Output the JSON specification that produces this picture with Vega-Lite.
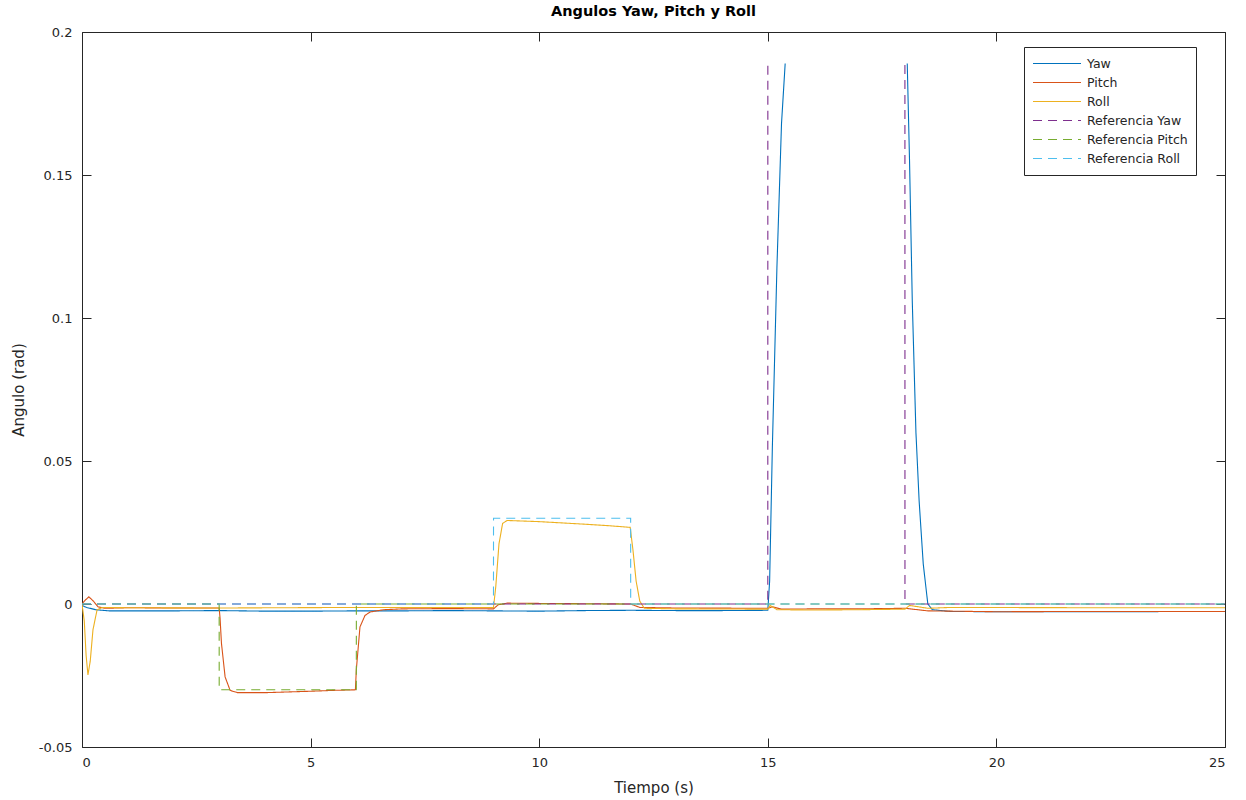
{
  "$schema": "https://vega.github.io/schema/vega-lite/v6.json",
  "width": 1143,
  "height": 715,
  "autosize": {"type": "none"},
  "padding": {"left": 82, "top": 32, "right": 21, "bottom": 53},
  "background": "white",
  "title": {"text": "Angulos Yaw, Pitch y Roll", "font": "DejaVu Sans", "fontSize": 14.5, "fontWeight": "bold", "color": "#000000", "offset": 7},
  "data": {"values": [
    {"s": "Yaw", "t": 0, "v": -0.0005},
    {"s": "Yaw", "t": 0.1, "v": -0.0012},
    {"s": "Yaw", "t": 0.3, "v": -0.002},
    {"s": "Yaw", "t": 0.6, "v": -0.0024},
    {"s": "Yaw", "t": 2, "v": -0.0024},
    {"s": "Yaw", "t": 3, "v": -0.0023},
    {"s": "Yaw", "t": 4, "v": -0.0025},
    {"s": "Yaw", "t": 5, "v": -0.0025},
    {"s": "Yaw", "t": 6, "v": -0.0024},
    {"s": "Yaw", "t": 7, "v": -0.0024},
    {"s": "Yaw", "t": 8, "v": -0.0023},
    {"s": "Yaw", "t": 9, "v": -0.0024},
    {"s": "Yaw", "t": 10, "v": -0.0025},
    {"s": "Yaw", "t": 11, "v": -0.0023},
    {"s": "Yaw", "t": 12, "v": -0.0022},
    {"s": "Yaw", "t": 13, "v": -0.0023},
    {"s": "Yaw", "t": 14, "v": -0.0023},
    {"s": "Yaw", "t": 15, "v": -0.0022},
    {"s": "Yaw", "t": 15.04, "v": 0.008},
    {"s": "Yaw", "t": 15.1, "v": 0.055},
    {"s": "Yaw", "t": 15.2, "v": 0.118},
    {"s": "Yaw", "t": 15.3, "v": 0.168},
    {"s": "Yaw", "t": 15.38, "v": 0.189},
    {"s": "Yaw", "t": 16.7, "v": null},
    {"s": "Yaw", "t": 18.05, "v": 0.189},
    {"s": "Yaw", "t": 18.1, "v": 0.155},
    {"s": "Yaw", "t": 18.16, "v": 0.106},
    {"s": "Yaw", "t": 18.24, "v": 0.06},
    {"s": "Yaw", "t": 18.31, "v": 0.036},
    {"s": "Yaw", "t": 18.4, "v": 0.014},
    {"s": "Yaw", "t": 18.5, "v": 0.0},
    {"s": "Yaw", "t": 18.6, "v": -0.002},
    {"s": "Yaw", "t": 19, "v": -0.0026},
    {"s": "Yaw", "t": 20, "v": -0.0027},
    {"s": "Yaw", "t": 22, "v": -0.0027},
    {"s": "Yaw", "t": 25, "v": -0.0026},

    {"s": "Pitch", "t": 0, "v": 0.0},
    {"s": "Pitch", "t": 0.08, "v": 0.0015},
    {"s": "Pitch", "t": 0.15, "v": 0.0025},
    {"s": "Pitch", "t": 0.25, "v": 0.001},
    {"s": "Pitch", "t": 0.35, "v": -0.001},
    {"s": "Pitch", "t": 0.5, "v": -0.0015},
    {"s": "Pitch", "t": 1, "v": -0.0013},
    {"s": "Pitch", "t": 2, "v": -0.0014},
    {"s": "Pitch", "t": 3, "v": -0.0014},
    {"s": "Pitch", "t": 3.02, "v": -0.005},
    {"s": "Pitch", "t": 3.05, "v": -0.0137},
    {"s": "Pitch", "t": 3.13, "v": -0.0255},
    {"s": "Pitch", "t": 3.24, "v": -0.0302},
    {"s": "Pitch", "t": 3.4, "v": -0.031},
    {"s": "Pitch", "t": 4, "v": -0.031},
    {"s": "Pitch", "t": 5, "v": -0.0305},
    {"s": "Pitch", "t": 5.5, "v": -0.0302},
    {"s": "Pitch", "t": 5.98, "v": -0.030},
    {"s": "Pitch", "t": 6.0, "v": -0.023},
    {"s": "Pitch", "t": 6.08, "v": -0.008},
    {"s": "Pitch", "t": 6.19, "v": -0.004},
    {"s": "Pitch", "t": 6.3, "v": -0.0028},
    {"s": "Pitch", "t": 6.6, "v": -0.002},
    {"s": "Pitch", "t": 7, "v": -0.0017},
    {"s": "Pitch", "t": 8, "v": -0.0016},
    {"s": "Pitch", "t": 9, "v": -0.0017},
    {"s": "Pitch", "t": 9.1, "v": -0.0003},
    {"s": "Pitch", "t": 9.3, "v": 0.0003},
    {"s": "Pitch", "t": 10, "v": 0.0002},
    {"s": "Pitch", "t": 11, "v": 0.0001},
    {"s": "Pitch", "t": 12, "v": 0.0},
    {"s": "Pitch", "t": 12.2, "v": -0.0012},
    {"s": "Pitch", "t": 13, "v": -0.0014},
    {"s": "Pitch", "t": 15, "v": -0.0015},
    {"s": "Pitch", "t": 15.1, "v": -0.001},
    {"s": "Pitch", "t": 15.3, "v": -0.0018},
    {"s": "Pitch", "t": 16, "v": -0.0017},
    {"s": "Pitch", "t": 17, "v": -0.0017},
    {"s": "Pitch", "t": 18, "v": -0.0015},
    {"s": "Pitch", "t": 18.5, "v": -0.0024},
    {"s": "Pitch", "t": 20, "v": -0.0027},
    {"s": "Pitch", "t": 22, "v": -0.0026},
    {"s": "Pitch", "t": 25, "v": -0.0026},

    {"s": "Roll", "t": 0, "v": 0.0},
    {"s": "Roll", "t": 0.05, "v": -0.006},
    {"s": "Roll", "t": 0.09, "v": -0.018},
    {"s": "Roll", "t": 0.13, "v": -0.0248},
    {"s": "Roll", "t": 0.18, "v": -0.02},
    {"s": "Roll", "t": 0.24, "v": -0.009},
    {"s": "Roll", "t": 0.33, "v": -0.002},
    {"s": "Roll", "t": 0.45, "v": -0.0012},
    {"s": "Roll", "t": 1, "v": -0.0013},
    {"s": "Roll", "t": 3, "v": -0.0014},
    {"s": "Roll", "t": 6, "v": -0.0012},
    {"s": "Roll", "t": 9, "v": -0.0012},
    {"s": "Roll", "t": 9.05, "v": 0.006},
    {"s": "Roll", "t": 9.12, "v": 0.021},
    {"s": "Roll", "t": 9.2, "v": 0.0282},
    {"s": "Roll", "t": 9.3, "v": 0.0292},
    {"s": "Roll", "t": 10, "v": 0.0288},
    {"s": "Roll", "t": 11, "v": 0.0279},
    {"s": "Roll", "t": 11.5, "v": 0.0274},
    {"s": "Roll", "t": 11.99, "v": 0.0268},
    {"s": "Roll", "t": 12.05, "v": 0.019},
    {"s": "Roll", "t": 12.12, "v": 0.008},
    {"s": "Roll", "t": 12.2, "v": 0.001},
    {"s": "Roll", "t": 12.3, "v": -0.0015},
    {"s": "Roll", "t": 13, "v": -0.0017},
    {"s": "Roll", "t": 15, "v": -0.0018},
    {"s": "Roll", "t": 15.05, "v": -0.0005},
    {"s": "Roll", "t": 15.2, "v": -0.002},
    {"s": "Roll", "t": 16, "v": -0.0021},
    {"s": "Roll", "t": 17, "v": -0.002},
    {"s": "Roll", "t": 18, "v": -0.0018},
    {"s": "Roll", "t": 18.1, "v": -0.0005},
    {"s": "Roll", "t": 18.5, "v": -0.0015},
    {"s": "Roll", "t": 19, "v": -0.0012},
    {"s": "Roll", "t": 22, "v": -0.0013},
    {"s": "Roll", "t": 25, "v": -0.0013},

    {"s": "Referencia Yaw", "t": 0, "v": 0},
    {"s": "Referencia Yaw", "t": 15, "v": 0},
    {"s": "Referencia Yaw", "t": 15.001, "v": 0.1885},
    {"s": "Referencia Yaw", "t": 16.5, "v": null},
    {"s": "Referencia Yaw", "t": 17.999, "v": 0.1885},
    {"s": "Referencia Yaw", "t": 18, "v": 0},
    {"s": "Referencia Yaw", "t": 25, "v": 0},

    {"s": "Referencia Pitch", "t": 0, "v": 0},
    {"s": "Referencia Pitch", "t": 3, "v": 0},
    {"s": "Referencia Pitch", "t": 3.001, "v": -0.03},
    {"s": "Referencia Pitch", "t": 6, "v": -0.03},
    {"s": "Referencia Pitch", "t": 6.001, "v": 0},
    {"s": "Referencia Pitch", "t": 25, "v": 0},

    {"s": "Referencia Roll", "t": 0, "v": 0},
    {"s": "Referencia Roll", "t": 9, "v": 0},
    {"s": "Referencia Roll", "t": 9.001, "v": 0.03},
    {"s": "Referencia Roll", "t": 12, "v": 0.03},
    {"s": "Referencia Roll", "t": 12.001, "v": 0},
    {"s": "Referencia Roll", "t": 25, "v": 0}
  ]},
  "layer": [
    {
      "mark": {"type": "line", "strokeWidth": 1.1, "clip": true, "invalid": "break-paths-filter-domains"},
      "encoding": {
        "x": {"field": "t", "type": "quantitative", "scale": {"domain": [0, 25], "nice": false, "zero": false},
          "axis": {"orient": "bottom", "values": [0, 5, 10, 15, 20, 25], "title": "Tiempo (s)", "labelPadding": 18, "titlePadding": 11}},
        "y": {"field": "v", "type": "quantitative", "scale": {"domain": [-0.05, 0.2], "nice": false, "zero": false},
          "axis": {"orient": "left", "values": [-0.05, 0, 0.05, 0.1, 0.15, 0.2], "title": "Angulo (rad)", "labelPadding": 19, "titlePadding": 12,
            "labelExpr": "datum.value < 0 ? '-' + format(-datum.value, '~g') : format(datum.value, '~g')"}},
        "color": {"field": "s", "type": "nominal",
          "scale": {"domain": ["Yaw", "Pitch", "Roll", "Referencia Yaw", "Referencia Pitch", "Referencia Roll"],
            "range": ["#0072BD", "#D95319", "#EDB120", "#7E2F8E", "#77AC30", "#4DBEEE"]},
          "legend": {"title": null}},
        "strokeDash": {"field": "s", "type": "nominal",
          "scale": {"domain": ["Yaw", "Pitch", "Roll", "Referencia Yaw", "Referencia Pitch", "Referencia Roll"],
            "range": [[1, 0], [1, 0], [1, 0], [9, 6], [9, 6], [9, 6]]},
          "legend": {"title": null}}
      }
    },
    {
      "mark": {"type": "line", "opacity": 0, "invalid": "break-paths-filter-domains"},
      "encoding": {
        "x": {"field": "t", "type": "quantitative", "axis": {"orient": "top", "values": [0, 5, 10, 15, 20, 25], "labels": false, "title": null}},
        "y": {"field": "v", "type": "quantitative", "axis": {"orient": "right", "values": [-0.05, 0, 0.05, 0.1, 0.15, 0.2], "labels": false, "title": null}},
        "detail": {"field": "s", "type": "nominal"}
      }
    }
  ],
  "resolve": {"axis": {"x": "independent", "y": "independent"}},
  "config": {
    "view": {"stroke": null},
    "axis": {
      "grid": false,
      "domainColor": "#262626",
      "domainWidth": 1,
      "tickColor": "#262626",
      "tickWidth": 1,
      "tickSize": -9,
      "labelColor": "#262626",
      "labelFont": "DejaVu Sans",
      "labelFontSize": 13,
      "titleColor": "#262626",
      "titleFont": "DejaVu Sans",
      "titleFontSize": 15,
      "titleFontWeight": "normal"
    },
    "legend": {
      "orient": "none",
      "legendX": 942,
      "legendY": 15,
      "padding": 8,
      "strokeColor": "#262626",
      "fillColor": "white",
      "cornerRadius": 0,
      "symbolType": "stroke",
      "symbolSize": 2300,
      "symbolStrokeWidth": 1.2,
      "labelFont": "DejaVu Sans",
      "labelFontSize": 12.5,
      "labelColor": "#262626",
      "labelOffset": 5,
      "rowPadding": 2,
      "clipHeight": 17
    }
  }
}
